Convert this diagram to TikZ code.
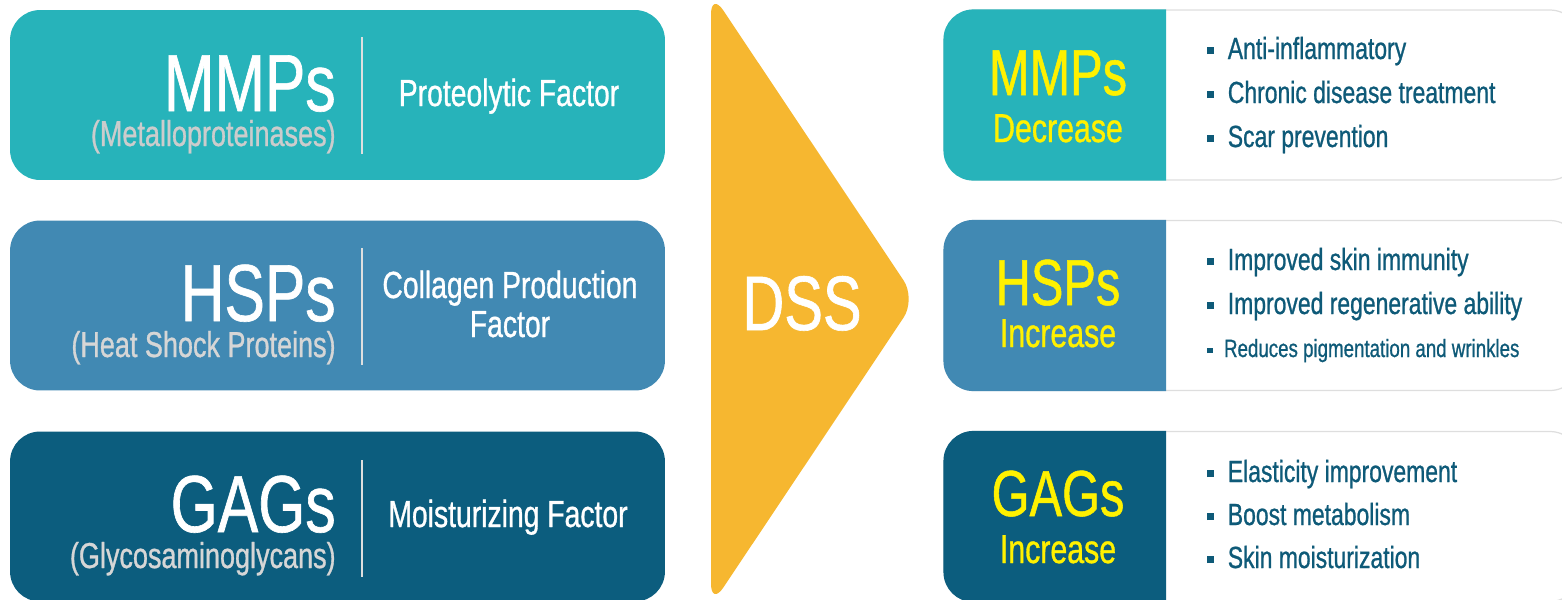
\documentclass[tikz,border=0pt]{standalone}
\usepackage{fontspec}
\setmainfont{Liberation Sans}[FakeStretch=0.75, FakeBold=0.8]
\usepackage{tikz}
\usetikzlibrary{positioning}
\definecolor{mmpcol}{HTML}{27B3BA}
\definecolor{hspcol}{HTML}{4189B3}
\definecolor{gagcol}{HTML}{0C5D7E}
\definecolor{dsscol}{HTML}{F6B730}
\definecolor{hilite}{HTML}{FFF100}
\definecolor{listcol}{HTML}{0E5A78}
\definecolor{subcol}{HTML}{D6D6D6}
\newcommand{\sq}{\rule[.16em]{.22em}{.22em}\hspace{.45em}}
\tikzstyle{leftbox}=[rectangle, rounded corners=0.6cm, minimum width=13.1cm, minimum height=3.4cm, inner sep=0pt]
\tikzstyle{rightbox}=[rectangle, draw=black!13, line width=0.7pt, fill=white, rounded corners=0.6cm, minimum width=12.72cm, minimum height=3.4cm]
\tikzset{bigname/.style={text=white, inner sep=0pt, anchor=base east, text depth=0pt, font=\fontsize{46}{46}\selectfont},
  longname/.style={text=subcol, inner sep=0pt, anchor=base east, text height=0.6em, font=\fontsize{20.5}{20.5}\selectfont},
  factor/.style={text=white, inner sep=0pt, anchor=base, align=center, font=\fontsize{21.5}{22.2}\selectfont},
  divider/.style={white!75!gray, line width=0.8pt},
  resname/.style={text=hilite, inner sep=0pt, anchor=base, font=\fontsize{37}{37}\selectfont},
  restrend/.style={text=hilite, inner sep=0pt, anchor=base, font=\fontsize{23}{23}\selectfont},
  effect/.style={text=listcol, inner sep=0pt, anchor=base west, font=\fontsize{17.4}{17.4}\selectfont}}

\begin{document}
\begin{tikzpicture}[x=0.02cm, y=-0.02cm]
\useasboundingbox (0,0) rectangle (1562,599);

\node[leftbox, fill=mmpcol] (mmpL) at (337.5,95) {};
\node[leftbox, fill=hspcol] (hspL) at (337.5,305.5) {};
\node[leftbox, fill=gagcol] (gagL) at (337.5,516.5) {};

\draw[divider] (362,37) -- (362,154);
\draw[divider] (362,248) -- (362,365);
\draw[divider] (362,460) -- (362,577);

\node[bigname] (mmpname) at (336,111) {MMPs};
\node[longname, text=black!20] (mmplong) at (336,146) {(Metalloproteinases)};
\node[factor] (mmpfac) at (509,106) {Proteolytic Factor};

\node[bigname] (hspname) at (336,321) {HSPs};
\node[longname] (hsplong) at (336,357) {(Heat Shock Proteins)};
\node[factor] (hspfac) at (510,337) {Collagen Production\\Factor};

\node[bigname] (gagname) at (336,532) {GAGs};
\node[longname] (gaglong) at (336,568) {(Glycosaminoglycans)};
\node[factor] (gagfac) at (508,527) {Moisturizing Factor};

\fill[dsscol, rounded corners=0.45cm] (711,-8) -- (916,299) -- (711,606) -- cycle;
\node[text=white, inner sep=0pt, anchor=base, font=\fontsize{44}{44}\selectfont] (dss) at (802,330) {DSS};

\node[rightbox] (mmpR) at (1262,95) {};
\node[rightbox] (hspR) at (1262,305.5) {};
\node[rightbox] (gagR) at (1262,516.5) {};

\begin{scope}
\clip (940,0) rectangle (1166,599);
\fill[mmpcol, rounded corners=0.6cm] (mmpR.north west) rectangle (mmpR.south east);
\fill[hspcol, rounded corners=0.6cm] (hspR.north west) rectangle (hspR.south east);
\fill[gagcol, rounded corners=0.6cm] (gagR.north west) rectangle (gagR.south east);
\end{scope}

\node[resname] (mmpres) at (1058,95) {MMPs};
\node[restrend] (mmptrend) at (1058,142) {Decrease};
\node[resname] (hspres) at (1058,305) {HSPs};
\node[restrend] (hsptrend) at (1058,347) {Increase};
\node[resname] (gagres) at (1058,516) {GAGs};
\node[restrend] (gagtrend) at (1058,563) {Increase};

\node[effect] (e11) at (1207,59) {\sq Anti-inflammatory};
\node[effect] (e12) at (1207,103) {\sq Chronic disease treatment};
\node[effect] (e13) at (1207,147) {\sq Scar prevention};
\node[effect] (e21) at (1207,270) {\sq Improved skin immunity};
\node[effect] (e22) at (1207,314) {\sq Improved regenerative ability};
\node[effect, font=\fontsize{14.2}{14.2}\selectfont] (e23) at (1207,357) {\sq Reduces pigmentation and wrinkles};
\node[effect] (e31) at (1207,482) {\sq Elasticity improvement};
\node[effect] (e32) at (1207,525) {\sq Boost metabolism};
\node[effect] (e33) at (1207,568) {\sq Skin moisturization};
\end{tikzpicture}
\end{document}
